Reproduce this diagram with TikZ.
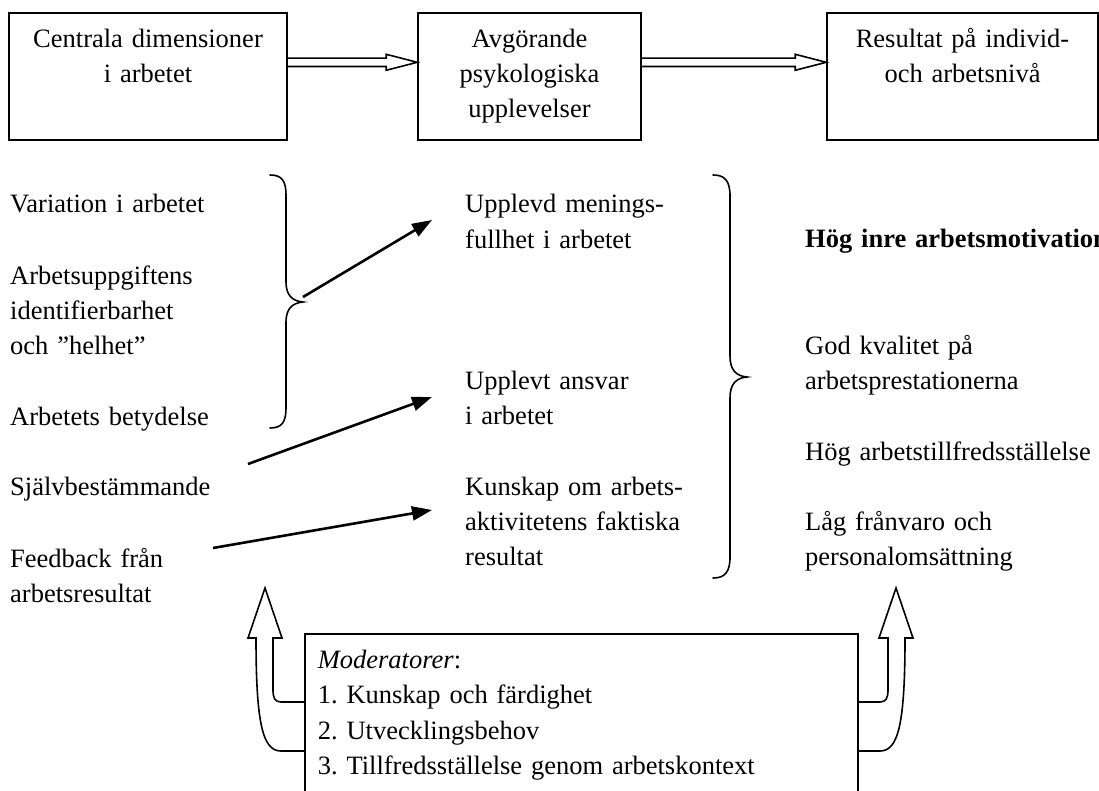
\documentclass[tikz,border=0pt]{standalone}
\usepackage{fontspec}
\setmainfont{Liberation Serif}
\frenchspacing
\usetikzlibrary{arrows.meta,calc}
\tikzset{
  topbox/.style={draw, line width=1.6pt, inner sep=0pt, align=center,
    text height=35pt, text depth=92pt, anchor=north},
  coltext/.style={anchor=base west, inner sep=0pt, text width=420pt, align=left},
  brace/.style={line width=1.6pt, line cap=round},
  link/.style={line width=2.6pt, -{Triangle[length=20pt,width=14pt]}},
  hollow/.style={line width=1.6pt, line join=miter},
  modbox/.style={draw, line width=1.6pt, anchor=north west, inner xsep=13pt,
    inner ysep=0pt, text width=527pt, align=left, text height=35pt, text depth=130pt},
}

\begin{document}
\begin{tikzpicture}[x=1pt, y=-1pt, font=\fontsize{26.5}{35.1}\selectfont]
  \useasboundingbox (0,0) rectangle (1099,791);
  \clip (0,0) rectangle (1099,791);

  % --- top row ---
  \node[topbox, text width=278pt] (dim) at (148,12) {Centrala dimensioner\\ i arbetet};
  \node[topbox, text width=223pt] (psy) at (529.5,12) {Avgörande\\ psykologiska\\ upplevelser};
  \node[topbox, text width=271pt] (res) at (962.5,12) {Resultat på individ-\\ och arbetsnivå};

  % hollow arrows between the boxes
  \draw[hollow] ([yshift=18.2pt]dim.east) -- ([xshift=-31pt,yshift=18.2pt]psy.west)
    -- ([xshift=-31pt,yshift=22pt]psy.west) -- ([yshift=14pt]psy.west)
    -- ([xshift=-31pt,yshift=6pt]psy.west) -- ([xshift=-31pt,yshift=9.8pt]psy.west)
    -- ([yshift=9.8pt]dim.east);
  \draw[hollow] ([yshift=18.2pt]psy.east) -- ([xshift=-31pt,yshift=18.2pt]res.west)
    -- ([xshift=-31pt,yshift=22pt]res.west) -- ([yshift=14pt]res.west)
    -- ([xshift=-31pt,yshift=6pt]res.west) -- ([xshift=-31pt,yshift=9.8pt]res.west)
    -- ([yshift=9.8pt]psy.east);

  % --- job dimensions ---
  \node[coltext] (var) at (10,213) {Variation i arbetet};
  \node[coltext] (ident) at (10,284) {Arbetsuppgiftens\\ identifierbarhet\\ och ”helhet”};
  \node[coltext] (bet) at (10,425) {Arbetets betydelse};
  \node[coltext] (sjalv) at (10,495) {Självbestämmande};
  \node[coltext] (feed) at (10,567) {Feedback från\\ arbetsresultat};

  % --- psychological states ---
  \node[coltext] (men) at (465,213) {Upplevd menings-\\ fullhet i arbetet};
  \node[coltext] (ans) at (465,389) {Upplevt ansvar\\ i arbetet};
  \node[coltext] (kun) at (465,495) {Kunskap om arbets-\\ aktivitetens faktiska\\ resultat};

  % --- outcomes ---
  \node[coltext] (mot) at (805,248) {\textbf{Hög inre arbetsmotivation}};
  \node[coltext] (kval) at (805,354) {God kvalitet på\\ arbetsprestationerna};
  \node[coltext] (tillf) at (805,460) {Hög arbetstillfredsställelse};
  \node[coltext] (fran) at (805,530) {Låg frånvaro och\\ personalomsättning};

  % braces
  \draw[brace] (270,175) .. controls (282,175) and (286,181) .. (286,195)
    -- (286,282) .. controls (286,295) and (292,301) .. (303,302)
    .. controls (292,303) and (286,309) .. (286,322)
    -- (286,408) .. controls (286,422) and (282,428) .. (270,428);
  \draw[brace] (713,175) .. controls (725,175) and (730,181) .. (730,196)
    -- (730,356) .. controls (730,370) and (736,376) .. (747,377)
    .. controls (736,378) and (730,384) .. (730,398)
    -- (730,557) .. controls (730,572) and (725,578) .. (713,578);

  % links
  \coordinate (l1a) at (303,297);
  \coordinate (l1b) at (432,220);
  \coordinate (l2a) at (248,464);
  \coordinate (l2b) at (432,397);
  \coordinate (l3a) at (213,548);
  \coordinate (l3b) at (432,510);
  \draw[link] (l1a) -- (l1b);
  \draw[link] (l2a) -- (l2b);
  \draw[link] (l3a) -- (l3b);

  % --- moderators ---
  \node[modbox] (mod) at (304,633) {\textit{Moderatorer}:\\ 1. Kunskap och färdighet\\
    2. Utvecklingsbehov\\ 3. Tillfredsställelse genom arbetskontext};

  \draw[hollow] ([yshift=-69pt]mod.north west) -- (281,702)
    .. controls (275,702) and (273,698) .. (273,690) -- (273,638) -- (282,638)
    -- (265,588) -- (248,638) -- (256,638)
    .. controls (256,725) and (263,751) .. (281,751) -- ([yshift=-118pt]mod.north west);
  \draw[hollow] ([yshift=-69pt]mod.north east) -- (880,702)
    .. controls (886,702) and (888,698) .. (888,690) -- (888,638) -- (879,638)
    -- (896,588) -- (913,638) -- (905,638)
    .. controls (905,725) and (898,751) .. (880,751) -- ([yshift=-118pt]mod.north east);

\end{tikzpicture}
\end{document}
